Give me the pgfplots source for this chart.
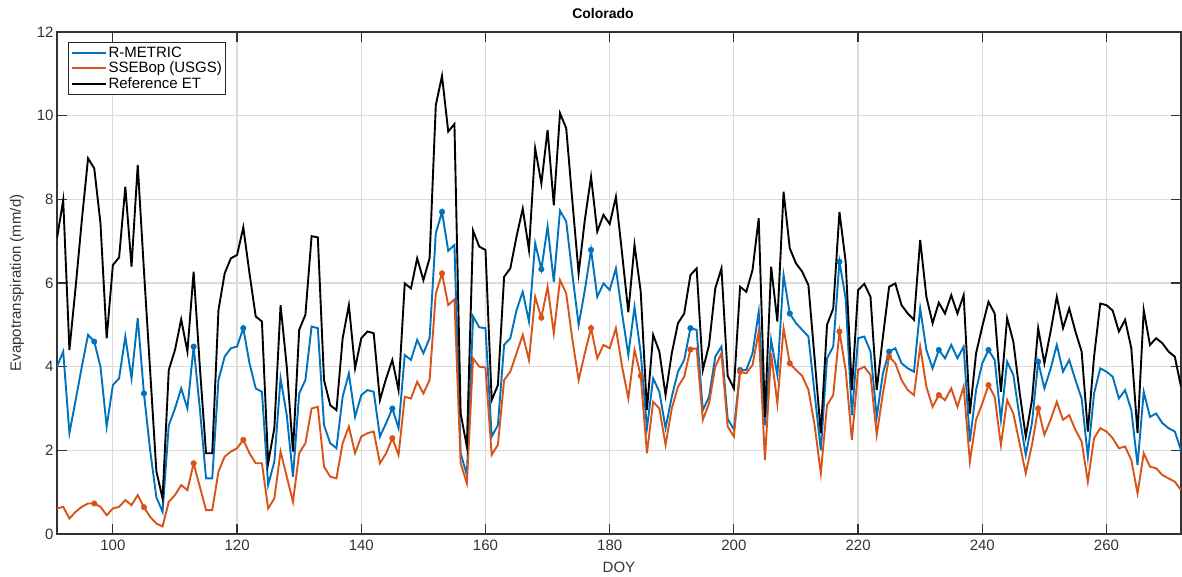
\documentclass[border=0pt]{standalone}
\usepackage{pgfplots}
\usepackage{pgfplotstable}
\pgfplotsset{compat=1.18}
\usepackage{fontspec}
\setmainfont{Liberation Sans}
\definecolor{mblue}{rgb}{0,0.447,0.741}
\definecolor{morange}{rgb}{0.85,0.325,0.098}
\definecolor{mgrid}{rgb}{0.86,0.86,0.86}
\definecolor{maxis}{rgb}{0.2,0.2,0.2}

\pgfplotstableread{
doy ref rm ss
91 7.07 4.00 0.61
92 7.98 4.36 0.65
93 4.40 2.41 0.37
94 5.90 3.20 0.53
95 7.50 4.00 0.65
96 8.98 4.76 0.73
97 8.74 4.60 0.73
98 7.43 4.00 0.65
99 4.68 2.57 0.45
100 6.43 3.56 0.61
101 6.61 3.72 0.65
102 8.30 4.72 0.81
103 6.39 3.72 0.69
104 8.82 5.16 0.93
105 6.30 3.36 0.64
106 3.90 2.00 0.41
107 1.50 0.88 0.25
108 0.85 0.53 0.18
109 3.92 2.60 0.77
110 4.40 3.00 0.93
111 5.13 3.48 1.17
112 4.36 3.00 1.05
113 6.27 4.48 1.69
114 4.00 3.00 1.13
115 1.93 1.33 0.57
116 1.93 1.33 0.57
117 5.35 3.68 1.49
118 6.23 4.24 1.85
119 6.59 4.44 1.97
120 6.67 4.48 2.05
121 7.33 4.92 2.25
122 6.23 4.08 1.93
123 5.20 3.48 1.69
124 5.08 3.40 1.69
125 1.69 1.17 0.61
126 2.53 1.73 0.85
127 5.47 3.72 1.97
128 4.00 2.84 1.37
129 1.97 1.37 0.77
130 4.88 3.36 1.93
131 5.24 3.68 2.17
132 7.12 4.96 3.00
133 7.09 4.92 3.04
134 3.68 2.60 1.61
135 3.08 2.17 1.37
136 2.96 2.05 1.33
137 4.68 3.28 2.17
138 5.47 3.84 2.57
139 3.96 2.80 1.93
140 4.68 3.32 2.33
141 4.84 3.44 2.41
142 4.80 3.40 2.45
143 3.20 2.33 1.69
144 3.72 2.65 1.93
145 4.16 3.00 2.29
146 3.44 2.53 1.89
147 5.99 4.28 3.28
148 5.87 4.16 3.24
149 6.59 4.64 3.64
150 6.07 4.32 3.36
151 6.59 4.68 3.68
152 10.25 7.19 5.75
153 10.95 7.70 6.23
154 9.62 6.77 5.47
155 9.80 6.91 5.61
156 2.88 1.93 1.69
157 2.09 1.41 1.21
158 7.25 5.20 4.20
159 6.87 4.94 4.00
160 6.79 4.92 3.98
161 3.20 2.33 1.89
162 3.56 2.60 2.13
163 6.15 4.52 3.68
164 6.35 4.68 3.88
165 7.11 5.35 4.32
166 7.78 5.79 4.76
167 6.79 5.08 4.16
168 9.22 6.95 5.67
169 8.38 6.33 5.17
170 9.66 7.35 5.91
171 7.86 6.03 4.80
172 10.06 7.73 6.07
173 9.70 7.47 5.75
174 7.94 6.19 4.64
175 6.23 5.00 3.68
176 7.51 5.83 4.32
177 8.54 6.79 4.92
178 7.23 5.67 4.20
179 7.63 5.99 4.52
180 7.41 5.83 4.44
181 8.06 6.35 4.92
182 6.70 5.27 4.00
183 5.30 4.28 3.24
184 6.91 5.43 4.40
185 5.79 4.32 3.78
186 2.96 2.53 1.93
187 4.76 3.72 3.16
188 4.36 3.40 3.00
189 3.32 2.53 2.13
190 4.32 3.28 3.00
191 5.04 3.88 3.52
192 5.27 4.16 3.76
193 6.19 4.92 4.41
194 6.35 4.88 4.44
195 3.92 2.96 2.73
196 4.52 3.28 3.12
197 5.87 4.24 4.00
198 6.35 4.48 4.32
199 3.78 2.75 2.57
200 3.48 2.50 2.33
201 5.91 3.92 3.88
202 5.79 3.92 3.84
203 6.31 4.32 4.04
204 7.55 5.31 4.84
205 2.80 2.60 1.77
206 6.39 4.64 4.32
207 5.08 3.80 3.12
208 8.18 6.19 4.92
209 6.83 5.27 4.08
210 6.47 5.04 3.92
211 6.27 4.88 3.78
212 5.95 4.72 3.45
213 4.20 3.36 2.60
214 2.41 2.00 1.45
215 5.00 4.20 3.08
216 5.39 4.48 3.32
217 7.70 6.51 4.84
218 6.51 5.63 3.92
219 3.44 2.84 2.25
220 5.83 4.68 3.92
221 5.98 4.72 4.00
222 5.67 4.36 3.80
223 3.44 2.80 2.37
224 4.72 3.84 3.36
225 5.91 4.36 4.24
226 5.99 4.44 4.08
227 5.47 4.08 3.68
228 5.27 3.96 3.44
229 5.12 3.88 3.32
230 7.03 5.39 4.48
231 5.67 4.40 3.52
232 5.04 3.96 3.04
233 5.53 4.40 3.32
234 5.27 4.20 3.20
235 5.71 4.52 3.48
236 5.27 4.20 3.04
237 5.71 4.48 3.52
238 2.88 2.21 1.73
239 4.32 3.44 2.73
240 4.96 4.08 3.12
241 5.55 4.40 3.56
242 5.27 4.16 3.28
243 3.40 2.73 2.13
244 5.16 4.12 3.20
245 4.60 3.80 2.88
246 3.40 2.80 2.17
247 2.33 1.89 1.45
248 3.20 2.65 2.13
249 4.92 4.12 3.00
250 4.08 3.48 2.37
251 4.84 3.95 2.73
252 5.67 4.52 3.16
253 4.92 3.88 2.73
254 5.39 4.16 2.84
255 4.84 3.68 2.49
256 4.36 3.24 2.21
257 2.45 1.85 1.25
258 4.24 3.36 2.29
259 5.51 3.96 2.53
260 5.47 3.88 2.45
261 5.34 3.76 2.29
262 4.84 3.24 2.05
263 5.12 3.44 2.09
264 4.44 2.96 1.77
265 2.41 1.65 0.97
266 5.35 3.40 1.93
267 4.52 2.80 1.61
268 4.68 2.88 1.57
269 4.56 2.65 1.41
270 4.36 2.53 1.33
271 4.24 2.45 1.25
272 3.52 2.00 1.05
}\etdata

\pgfplotstableread{
doy rm
97 4.60
105 3.36
113 4.48
121 4.92
145 3.00
153 7.70
169 6.33
177 6.79
193 4.92
201 3.92
209 5.27
217 6.51
225 4.36
233 4.40
241 4.40
249 4.12
}\rmdots

\pgfplotstableread{
doy ss
97 0.73
105 0.64
113 1.69
121 2.25
145 2.29
153 6.23
169 5.17
177 4.92
185 3.78
193 4.41
201 3.88
209 4.08
217 4.84
225 4.24
233 3.32
241 3.56
249 3.00
}\ssdots

\begin{document}
\begin{tikzpicture}
\begin{axis}[
  scale only axis,
  width=1124pt, height=502pt,
  xmin=91, xmax=272, ymin=0, ymax=12,
  xtick={100,120,...,260},
  ytick={0,2,...,12},
  tick align=inside,
  major tick length=10pt,
  tick style={maxis, line width=1.2pt},
  axis line style={maxis, line width=1.2pt},
  grid=major,
  major grid style={mgrid, line width=1.2pt},
  every tick label/.append style={font=\fontsize{15}{18}\selectfont, text=black!80},
  xticklabel style={yshift=-2pt},
  /pgf/number format/assume math mode=true,
  title={Colorado},
  title style={font=\bfseries\fontsize{14}{16}\selectfont, yshift=4pt, xshift=-16pt},
  xlabel={DOY},
  ylabel={Evapotranspiration (mm/d)},
  label style={font=\fontsize{15}{18}\selectfont, text=black!80},
  xlabel style={yshift=-5pt},
  ylabel style={yshift=6pt},
  legend cell align=left,
  legend style={at={(0.0098,0.98)}, anchor=north west, draw=black!85, line width=1.2pt,
    font=\fontsize{15}{17}\selectfont, inner sep=2pt, row sep=-0.5pt,
    legend image code/.code={\draw[#1, line width=1.9pt] (0pt,0pt) -- (34pt,0pt);}},
]
\addplot[mblue, line width=1.9pt] table[x=doy, y=rm] {\etdata};
\addlegendentry{R-METRIC}
\addplot[morange, line width=1.9pt] table[x=doy, y=ss] {\etdata};
\addlegendentry{SSEBop (USGS)}
\addplot[black, line width=1.9pt] table[x=doy, y=ref] {\etdata};
\addlegendentry{Reference ET}
\addplot[only marks, mark=*, mark size=2.8pt, mblue, forget plot] table[x=doy, y=rm] {\rmdots};
\addplot[only marks, mark=*, mark size=2.8pt, morange, forget plot] table[x=doy, y=ss] {\ssdots};
\end{axis}
\path (-57pt,-43pt) rectangle (1125pt,534pt);
\end{tikzpicture}
\end{document}
